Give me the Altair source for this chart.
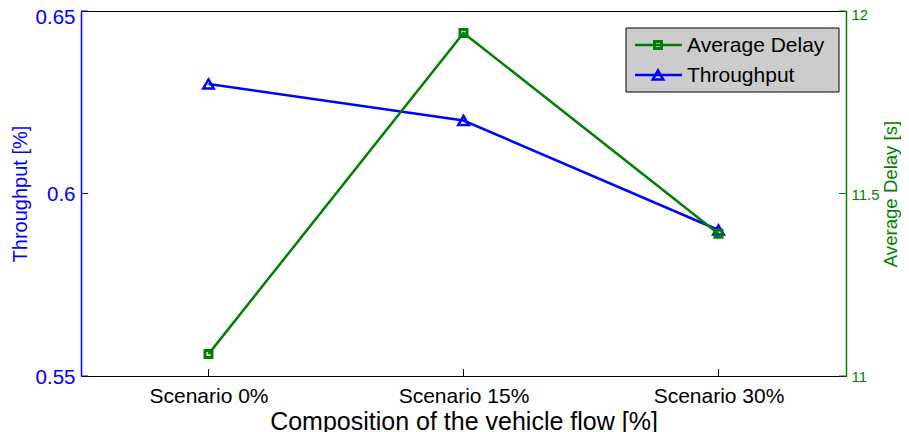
import altair as alt
import pandas as pd

# ---- data ----
scenarios = ["Scenario 0%", "Scenario 15%", "Scenario 30%"]
throughput = [0.63, 0.62, 0.59]
delay = [11.06, 11.94, 11.39]
thr_ticks = [0.55, 0.6, 0.65]
delay_ticks = [11, 11.5, 12]
legend_labels = ["Average Delay", "Throughput"]

# ---- style ----
BLUE = "#0000ff"
GREEN = "#008000"
FONT = "Liberation Sans"
W, H = 765, 365

df = pd.DataFrame({"scenario": scenarios, "throughput": throughput, "delay": delay})
thr_tick_df = pd.DataFrame({"throughput": thr_ticks})
delay_tick_df = pd.DataFrame({"delay": delay_ticks})
leg_df = pd.DataFrame({"label": legend_labels})

x_enc = alt.X(
    "scenario:N", sort=scenarios,
    scale=alt.Scale(type="point", padding=0.5),
    axis=alt.Axis(
        title="Composition of the vehicle flow [%]", labelAngle=0,
        labelFont=FONT, labelFontSize=21, labelColor="black", labelPadding=9,
        ticks=False, tickSize=0, domainColor="black", domainWidth=1, grid=False,
        titleFont=FONT, titleFontSize=25, titleFontWeight="normal", titleColor="black",
        titleBaseline="alphabetic", titleAlign="center", titleX=W / 2, titleY=53,
    ),
)

y_thr = alt.Y(
    "throughput:Q",
    scale=alt.Scale(domain=[0.55, 0.65], nice=False, zero=False),
    axis=alt.Axis(
        title="Throughput [%]", values=thr_ticks, format="~g", orient="left",
        labelFont=FONT, labelFontSize=20.5, labelColor=BLUE, labelPadding=6,
        labelOffset={"condition": {"test": "datum.value >= 0.649", "value": 6}, "value": 1},
        ticks=False, tickSize=0, domainColor=BLUE, domainWidth=1.5, grid=False,
        titleFont=FONT, titleFontSize=20, titleFontWeight="normal", titleColor=BLUE,
        titleAngle=270, titleBaseline="alphabetic", titleAlign="center",
        titleX=-55, titleY=H / 2,
    ),
)

y_del = alt.Y(
    "delay:Q",
    scale=alt.Scale(domain=[11, 12], nice=False, zero=False),
    axis=alt.Axis(
        title="Average Delay [s]", values=delay_ticks, format="~g", orient="right",
        labelFont=FONT, labelFontSize=15, labelColor=GREEN, labelPadding=5,
        labelOffset={"condition": {"test": "datum.value >= 11.99", "value": 3}, "value": 0.5},
        ticks=False, tickSize=0, domainColor=GREEN, domainWidth=1.5, grid=False,
        titleFont=FONT, titleFontSize=18.6, titleFontWeight="normal", titleColor=GREEN,
        titleAngle=270, titleBaseline="alphabetic", titleAlign="center",
        titleX=50.5, titleY=H / 2,
    ),
)

# ---- left (throughput) ----
thr_line = alt.Chart(df).mark_line(color=BLUE, strokeWidth=2.5).encode(x=x_enc, y=y_thr)
thr_pts = alt.Chart(df).mark_point(
    shape="triangle-up", color=BLUE, filled=False, strokeWidth=2.5, size=110, opacity=1
).encode(x=x_enc, y=y_thr)
thr_ticks_m = alt.Chart(thr_tick_df).mark_rule(color=BLUE, strokeWidth=1).encode(
    y=y_thr, x=alt.value(0), x2=alt.value(7)
)
x_ticks_m = alt.Chart(df).mark_rule(color="black", strokeWidth=1).encode(
    x=x_enc, y=alt.value(H), y2=alt.value(H - 7)
)
left = alt.layer(x_ticks_m, thr_ticks_m, thr_line, thr_pts)

# ---- right (delay) ----
del_line = alt.Chart(df).mark_line(color=GREEN, strokeWidth=2.5).encode(x=x_enc, y=y_del)
del_pts = alt.Chart(df).mark_point(
    shape="square", color=GREEN, filled=False, strokeWidth=3, size=49, opacity=1
).encode(x=x_enc, y=y_del)
del_ticks_m = alt.Chart(delay_tick_df).mark_rule(color=GREEN, strokeWidth=1).encode(
    y=y_del, x=alt.value(W - 7), x2=alt.value(W)
)
right = alt.layer(del_ticks_m, del_line, del_pts)

# ---- legend ----
LX0, LX1, LY0, LY1 = 545, 758, 17, 81
leg_colors = [GREEN, BLUE]
leg_shapes = ["square", "triangle-up"]
leg_rows = [34, 64]
leg_base = alt.Chart(leg_df)
leg_layers = [
    leg_base.transform_filter(alt.datum.label == legend_labels[0]).mark_rect(
        fill="#cccccc", stroke="black", strokeWidth=1
    ).encode(x=alt.value(LX0), x2=alt.value(LX1), y=alt.value(LY0), y2=alt.value(LY1))
]
for lab, col, shp, ry in zip(legend_labels, leg_colors, leg_shapes, leg_rows):
    b = leg_base.transform_filter(alt.datum.label == lab)
    leg_layers.append(
        b.mark_rule(color=col, strokeWidth=2.5).encode(
            x=alt.value(554), x2=alt.value(601), y=alt.value(ry)
        )
    )
    leg_layers.append(
        b.mark_point(
            shape=shp, color=col, filled=False, opacity=1,
            strokeWidth=3 if shp == "square" else 2.5,
            size=49 if shp == "square" else 110,
        ).encode(x=alt.value(577), y=alt.value(ry))
    )
    leg_layers.append(
        b.mark_text(
            align="left", baseline="middle", font=FONT, fontSize=21, color="black"
        ).encode(x=alt.value(606), y=alt.value(ry + 1), text="label:N")
    )

chart = (
    alt.layer(left, right, *leg_layers)
    .resolve_scale(y="independent")
    .properties(
        width=W, height=H,
        padding={"left": 73, "top": 3, "right": 55, "bottom": 60},
        autosize=alt.AutoSizeParams(type="none"),
        background="white",
    )
    .configure_view(stroke="black", strokeWidth=1)
)

chart.save("out.html", embed_options={"renderer": "svg", "actions": False})
